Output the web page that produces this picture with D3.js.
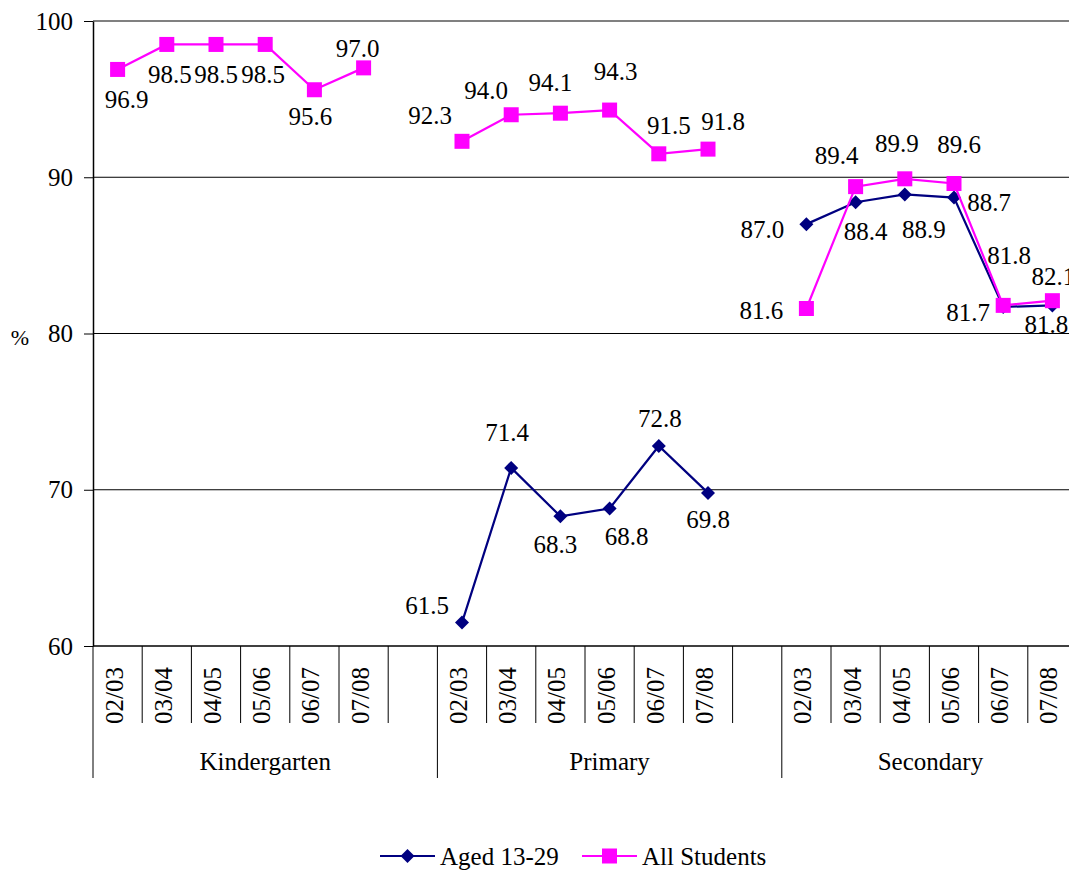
<!DOCTYPE html>
<html>
<head>
<meta charset="utf-8">
<script src="https://cdn.jsdelivr.net/npm/d3@7"></script>
</head>
<body style="margin:0">
<svg id="chart" width="1069" height="871"></svg>
<script>
// ---------- data ----------
const groups = ["Kindergarten", "Primary", "Secondary"];
const years = ["02/03", "03/04", "04/05", "05/06", "06/07", "07/08"];
const yTicks = [60, 70, 80, 90, 100];

const allKindergarten = [96.9, 98.5, 98.5, 98.5, 95.6, 97.0];
const allPrimary      = [92.3, 94.0, 94.1, 94.3, 91.5, 91.8];
const allSecondary    = [81.6, 89.4, 89.9, 89.6, 81.8, 82.1];

const agedKindergarten = [null, null, null, null, null, null];
const agedPrimary      = [61.5, 71.4, 68.3, 68.8, 72.8, 69.8];
const agedSecondary    = [87.0, 88.4, 88.9, 88.7, 81.7, 81.8];

const seriesNames = ["Aged 13-29", "All Students"];

// label placement offsets (style, not data)
const allLabelOffsets = [
  [[9,30],[3,30],[0,30],[-2,30],[-4,27],[-6,-19]],
  [[-32,-26],[-25,-24],[-10,-31],[6,-39],[10,-28],[15,-28]],
  [[-45,2],[-19,-31],[-8,-35],[5,-39],[6,-50],[1,-24]]
];
const agedLabelOffsets = [
  [[0,0],[0,0],[0,0],[0,0],[0,0],[0,0]],
  [[-35,-17],[-4,-35],[-5,28],[17,28],[1,-28],[0,27]],
  [[-44,5],[10,29],[19,35],[35,5],[-35,6],[-6,19]]
];

// warm up the serif font
(function () {
  const c = document.createElement("canvas").getContext("2d");
  c.font = '25px "Liberation Serif"';
  c.measureText("Kindergarten 0123456789.%/-");
})();

// ---------- layout ----------
const svg = d3.select("#chart");
const FONT = 25;
const SERIF = '"Liberation Serif"';
const plotLeft = 93, plotTop = 21, plotBottom = 646;
const slotW = 49.2;

const slots = [];
groups.forEach(g => {
  years.forEach(yr => slots.push(g + "|" + yr));
  slots.push(g + "|gap");
});

const x = d3.scaleBand().domain(slots).range([plotLeft, plotLeft + slots.length * slotW]).padding(0);
const y = d3.scaleLinear().domain([60, 100]).range([plotBottom, plotTop]);
const plotRight = plotLeft + slots.length * slotW;

const navy = "#000080", magenta = "#FF00FF";

function txt(sel) {
  return sel.append("text").attr("font-family", SERIF).attr("font-size", FONT).attr("fill", "#000");
}

// gridlines
svg.append("g").selectAll("line").data(yTicks.filter(v => v > 60 && v < 100)).join("line")
  .attr("x1", plotLeft).attr("x2", plotRight)
  .attr("y1", d => y(d)).attr("y2", d => y(d))
  .attr("stroke", "#000").attr("stroke-width", 1);

// top border
svg.append("line").attr("x1", plotLeft).attr("x2", plotRight)
  .attr("y1", y(100)).attr("y2", y(100)).attr("stroke", "#808080").attr("stroke-width", 2);

// y axis (lines from d3 axis, labels drawn as own texts)
const yAxis = d3.axisLeft(y).tickValues(yTicks).tickSize(9).tickSizeOuter(0).tickFormat(() => "");
const yg = svg.append("g").attr("transform", `translate(${plotLeft},0)`).call(yAxis);
yg.select(".domain").attr("stroke", "#000").attr("stroke-width", 1.5);
yg.selectAll(".tick line").attr("stroke", "#000").attr("stroke-width", 1);
yTicks.forEach(t => {
  txt(svg).attr("x", 73).attr("y", y(t)).attr("dy", "0.34em").attr("text-anchor", "end").text(t);
});

// "%" label
txt(svg).attr("x", 20).attr("y", 338).attr("dy", "0.34em")
  .attr("text-anchor", "middle").attr("font-size", 22).text("%");

// x axis line
svg.append("line").attr("x1", plotLeft).attr("x2", plotRight)
  .attr("y1", plotBottom).attr("y2", plotBottom).attr("stroke", "#000").attr("stroke-width", 1.5);

// slot boundary ticks
const boundaries = d3.range(slots.length + 1);
svg.append("g").selectAll("line").data(boundaries).join("line")
  .attr("x1", i => plotLeft + i * x.bandwidth()).attr("x2", i => plotLeft + i * x.bandwidth())
  .attr("y1", plotBottom)
  .attr("y2", i => (i % 7 === 0) ? 778 : 723)
  .attr("stroke", "#000").attr("stroke-width", 1);

// year labels (rotated)
slots.filter(s => !s.endsWith("|gap")).forEach(s => {
  txt(svg).attr("transform", `translate(${x(s) + x.bandwidth() / 2 + 5},667) rotate(-90)`)
    .attr("text-anchor", "end").text(s.split("|")[1]);
});

// group labels (centred on the visible part of each group)
const visibleRight = 1079;
groups.forEach(g => {
  const a = x(g + "|02/03");
  const b = Math.min(x(g + "|gap") + x.bandwidth(), visibleRight);
  txt(svg).attr("x", (a + b) / 2).attr("y", 770).attr("text-anchor", "middle").text(g);
});

// ---------- series ----------
const allByGroup = [allKindergarten, allPrimary, allSecondary];
const agedByGroup = [agedKindergarten, agedPrimary, agedSecondary];

const cx = (gi, yi) => x(groups[gi] + "|" + years[yi]) + x.bandwidth() / 2;
const line = d3.line().defined(d => d.v != null).x(d => d.x).y(d => y(d.v));

function drawSeries(byGroup, color, marker) {
  const layer = svg.append("g");
  byGroup.forEach((vals, gi) => {
    const pts = vals.map((v, yi) => ({ v, x: cx(gi, yi) }));
    layer.append("path").datum(pts).attr("d", line)
      .attr("fill", "none").attr("stroke", color).attr("stroke-width", 2.2);
    const valid = pts.filter(p => p.v != null);
    if (marker === "square") {
      layer.selectAll(null).data(valid).join("rect")
        .attr("x", p => p.x - 7.5).attr("y", p => y(p.v) - 7.5)
        .attr("width", 15).attr("height", 15).attr("fill", color);
    } else {
      layer.selectAll(null).data(valid).join("path")
        .attr("d", p => `M${p.x},${y(p.v) - 7}L${p.x + 7},${y(p.v)}L${p.x},${y(p.v) + 7}L${p.x - 7},${y(p.v)}Z`)
        .attr("fill", color);
    }
  });
}

function drawLabels(byGroup, offsets) {
  byGroup.forEach((vals, gi) => {
    vals.forEach((v, yi) => {
      if (v == null) return;
      const o = offsets[gi][yi];
      txt(svg).attr("x", cx(gi, yi) + o[0]).attr("y", y(v) + o[1])
        .attr("dy", "0.34em").attr("text-anchor", "middle")
        .text(d3.format(".1f")(v));
    });
  });
}

drawSeries(agedByGroup, navy, "diamond");
drawSeries(allByGroup, magenta, "square");
drawLabels(allByGroup, allLabelOffsets);
drawLabels(agedByGroup, agedLabelOffsets);

// ---------- legend ----------
const legendItems = [
  { name: seriesNames[0], color: navy, marker: "diamond", x0: 380 },
  { name: seriesNames[1], color: magenta, marker: "square", x0: 582 }
];
const ly = 856;
legendItems.forEach(it => {
  svg.append("line").attr("x1", it.x0).attr("x2", it.x0 + 55)
    .attr("y1", ly).attr("y2", ly).attr("stroke", it.color).attr("stroke-width", 2.2);
  const mx = it.x0 + 27.5;
  if (it.marker === "square") {
    svg.append("rect").attr("x", mx - 7.5).attr("y", ly - 7.5).attr("width", 15).attr("height", 15).attr("fill", it.color);
  } else {
    svg.append("path").attr("d", `M${mx},${ly - 7}L${mx + 7},${ly}L${mx},${ly + 7}L${mx - 7},${ly}Z`).attr("fill", it.color);
  }
  txt(svg).attr("x", it.x0 + 60).attr("y", ly).attr("dy", "0.34em").text(it.name);
});
</script>
</body>
</html>
